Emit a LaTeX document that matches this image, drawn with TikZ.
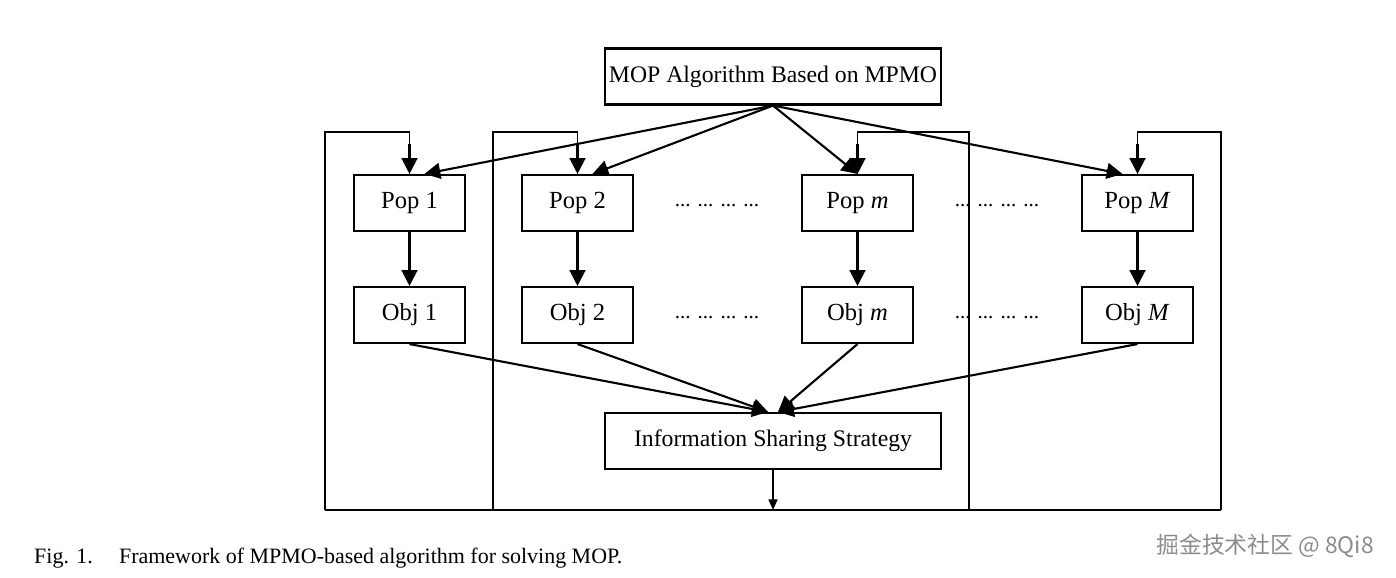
\documentclass[tikz,border=0pt]{standalone}
\usepackage{fontspec}
\setmainfont{Liberation Serif}
\newfontfamily\cjk{Noto Sans CJK SC}
\usetikzlibrary{arrows.meta}
\begin{document}
\begin{tikzpicture}[x=0.02cm,y=-0.02cm,
 box/.style={draw,line width=1.2pt,minimum width=2.22cm,minimum height=1.12cm,inner sep=0,font=\fontsize{14}{16}\selectfont},
 wide/.style={box,minimum width=6.72cm,font=\fontsize{13.5}{16}\selectfont},
 arr/.style={line width=1.2pt,-{Triangle[length=9pt,width=9pt]}},
 fb/.style={line width=1.1pt},
 dots/.style={font=\fontsize{12}{14}\selectfont}]
\useasboundingbox (0,0) rectangle (1396,578);
\node[wide] (top) at (773,76.5) {MOP Algorithm Based on MPMO};
\node[box] (p1) at (409.5,203) {Pop 1};
\node[box] (p2) at (577.5,203) {Pop 2};
\node[box] (pm) at (857.5,203) {Pop \textit{m}};
\node[box] (pM) at (1137.5,203) {Pop \textit{M}};
\node[box] (o1) at (409.5,315) {Obj 1};
\node[box] (o2) at (577.5,315) {Obj 2};
\node[box] (om) at (857.5,315) {Obj \textit{m}};
\node[box] (oM) at (1137.5,315) {Obj \textit{M}};
\node[wide] (info) at (773,441) {Information Sharing Strategy};
\node[dots] (d1) at (717,206) {... ... ... ...};
\node[dots] (d2) at (997,206) {... ... ... ...};
\node[dots] (d3) at (717,318) {... ... ... ...};
\node[dots] (d4) at (997,318) {... ... ... ...};
\draw[arr] (top.south) -- ([xshift=0.3cm]p1.north);
\draw[arr] (top.south) -- ([xshift=0.3cm]p2.north);
\draw[arr] (top.south) -- (pm.north);
\draw[arr] (top.south) -- ([xshift=-0.3cm]pM.north);
\foreach \a/\b in {p1/o1,p2/o2,pm/om,pM/oM} \draw[arr] (\a) -- (\b);
\draw[arr] (o1.south) -- ([xshift=-0.1cm]info.north);
\draw[arr] (o2.south) -- ([xshift=-0.1cm]info.north);
\draw[arr] (om.south) -- ([xshift=0.1cm]info.north);
\draw[arr] (oM.south) -- ([xshift=0.1cm]info.north);
\coordinate (bl) at (325,510); \coordinate (br) at (1221,510);
\coordinate (bm) at (773,510);
\draw[fb] (bl) -- (br);
\draw[fb,-{Triangle[length=6pt,width=5pt]}] (info.south) -- (bm);
\draw[fb] (bl) -- (325,132) -| (p1.north) ;
\draw[fb] (493,510) -- (493,132) -| (p2.north);
\draw[fb] (969,510) -- (969,132) -| (pm.north);
\draw[fb] (br) -- (1221,132) -| (pM.north);
\foreach \p in {p1,p2,pm,pM} \draw[arr] ([yshift=0.6cm]\p.north) -- (\p.north);
\node[anchor=west,font=\fontsize{12.5}{14}\selectfont] (cap) at (28,558) {Fig. 1.\hspace{1.2em}Framework of MPMO-based algorithm for solving MOP.};
\node[anchor=east,text=black!45,font=\cjk\fontsize{13}{15}\selectfont] (wm) at (1380,546) {掘金技术社区 @ 8Qi8};
\end{tikzpicture}
\end{document}
